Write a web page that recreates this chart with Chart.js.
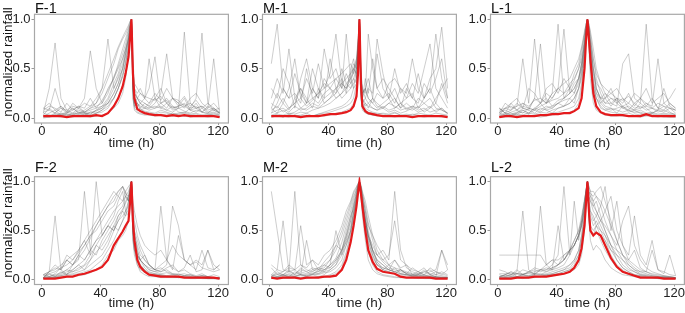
<!DOCTYPE html>
<html>
<head>
<meta charset="utf-8">
<script src="https://cdn.jsdelivr.net/npm/chart.js@4.4.1/dist/chart.umd.min.js"></script>
<style>
  body { margin: 0; background: #fff; }
  #fig { position: relative; width: 685px; height: 313px; overflow: hidden; font-family: "Liberation Sans", Arial, sans-serif; color: #111; }
  .panel { position: absolute; }
  .ptitle { position: absolute; font-size: 14.5px; line-height: 14px; }
  .ylab { position: absolute; font-size: 13.5px; white-space: nowrap; transform: translate(-50%, -50%) rotate(-90deg); }
</style>
</head>
<body>
<div id="fig"></div>
<script>
// sample times (h) shared by every curve
const HOURS = [1, 5, 9, 13, 17, 21, 25, 29, 33, 37,
               41, 45, 49, 52, 55, 57, 59, 60,
               61,
               62, 63, 65, 67, 70, 73,
               77, 81, 85, 89, 93, 97, 101, 105, 109, 113, 117, 121];
const X_TICKS = [0, 40, 80, 120];
const Y_TICKS = [0, 0.5, 1];
const PANEL_NAMES = ['F-1', 'M-1', 'L-1', 'F-2', 'M-2', 'L-2'];

// mean curves (red)
const RED_F1 = [.02,.02,.02,.02,.01,.02,.02,.02,.02,.03, .02,.05,.12,.2,.32,.45,.62,.8, 1, .45,.2,.09,.07,.05,.04, .03,.03,.02,.03,.02,.03,.02,.02,.02,.02,.02,.01];
const RED_M1 = [.02,.02,.02,.02,.02,.01,.02,.02,.02,.03, .04,.04,.05,.06,.08,.12,.22,.45, 1, .35,.12,.07,.05,.04,.03, .02,.02,.02,.02,.02,.01,.02,.02,.02,.02,.02,.01];
const RED_L1 = [.01,.02,.02,.01,.02,.02,.02,.03,.03,.04, .04,.05,.05,.07,.1,.2,.5,.78, 1, .8,.6,.25,.12,.06,.04, .03,.03,.03,.02,.02,.02,.04,.02,.02,.02,.02,.02];
const RED_F2 = [.01,.01,.01,.02,.03,.03,.05,.06,.08,.1, .13,.2,.35,.42,.49,.55,.6,.78, 1, .6,.4,.2,.13,.08,.05, .04,.03,.03,.03,.03,.02,.02,.02,.02,.02,.02,.01];
const RED_M2 = [.02,.01,.02,.02,.02,.01,.02,.02,.02,.03, .03,.04,.1,.2,.38,.55,.75,.88, 1, .88,.75,.5,.3,.18,.11, .08,.07,.06,.03,.02,.02,.02,.02,.02,.01,.01,.01];
const RED_L2 = [.01,.01,.01,.02,.02,.02,.03,.03,.03,.04, .05,.06,.08,.12,.2,.32,.55,.78, 1, .7,.5,.45,.48,.45,.35, .22,.13,.08,.06,.04,.02,.02,.02,.02,.01,.01,.01];

// individual events (grey)
const GRAY_F1 = [
  [.02,.03,.02,.05,.04,.03,.06,.05,.04,.08, .12,.2,.35,.45,.6,.7,.85,.92, 1, .3,.12,.08,.1,.06,.05, .04,.06,.05,.03,.04,.05,.03,.04,.02,.03,.04,.03],
  [.01,.02,.04,.03,.02,.05,.04,.03,.06,.05, .08,.15,.25,.35,.5,.62,.78,.9, 1, .45,.2,.12,.15,.1,.08, .1,.12,.08,.06,.1,.07,.05,.08,.06,.04,.05,.03],
  [.05,.03,.02,.04,.03,.02,.04,.06,.08,.1, .18,.28,.4,.55,.7,.8,.9,.95, 1, .35,.25,.2,.18,.15,.12, .2,.15,.18,.1,.12,.14,.08,.1,.12,.06,.08,.05],
  [0,.01,.02,.01,.02,.01,.03,.02,.01,.02, .03,.05,.1,.15,.25,.4,.65,.85, 1, .2,.08,.05,.04,.03,.03, .02,.03,.02,.02,.03,.02,.01,.02,.02,.01,.02,.01],
  [.1,.15,.08,.12,.06,.1,.05,.08,.12,.15, .25,.4,.55,.7,.8,.85,.92,.97, 1, .5,.3,.25,.3,.2,.15, .25,.18,.3,.2,.15,.22,.12,.18,.1,.15,.08,.1],
  [.05,.3,.76,.2,.08,.05,.1,.06,.04,.08, .1,.15,.25,.35,.5,.65,.8,.9, 1, .2,.12,.15,.08,.1,.15, .2,.1,.08,.12,.06,.05,.1,.12,.06,.05,.1,.05],
  [.03,.1,.05,.12,.06,.15,.1,.2,.68,.3, .15,.3,.4,.5,.6,.7,.8,.9, 1, .4,.25,.2,.15,.2,.6, .2,.3,.15,.1,.12,.2,.08,.15,.06,.1,.15,.08],
  [.08,.12,.1,.06,.15,.08,.12,.06,.1,.15, .3,.8,.3,.4,.5,.65,.8,.9, 1, .3,.2,.15,.1,.15,.12, .1,.15,.2,.12,.1,.87,.15,.1,.06,.12,.08,.05],
  [.02,.05,.08,.03,.05,.1,.06,.05,.02,.05, .08,.12,.2,.3,.42,.55,.72,.88, 1, .25,.15,.2,.25,.2,.3, .62,.15,.1,.2,.12,.15,.1,.2,.86,.15,.1,.05],
  [.1,.08,.3,.1,.05,.08,.12,.1,.2,.1, .12,.15,.2,.3,.42,.55,.7,.85, 1, .5,.3,.2,.15,.12,.1, .15,.25,.65,.2,.15,.1,.2,.25,.15,.1,.6,.05],
  [.01,.02,.03,.02,.04,.03,.05,.04,.06,.07, .1,.18,.3,.42,.55,.68,.82,.93, 1, .35,.15,.1,.08,.07,.06, .05,.08,.06,.04,.05,.06,.04,.05,.03,.04,.03,.02],
  [.03,.02,.05,.04,.06,.04,.08,.06,.1,.12, .15,.25,.42,.52,.65,.75,.88,.94, 1, .4,.22,.15,.12,.1,.1, .12,.1,.15,.08,.1,.12,.08,.06,.1,.05,.06,.04],
  [.02,.01,.03,.02,.01,.03,.02,.04,.03,.05, .06,.1,.2,.3,.45,.58,.75,.88, 1, .3,.1,.06,.05,.04,.04, .03,.04,.03,.05,.03,.02,.03,.02,.03,.02,.02,.01],
  [.06,.08,.05,.1,.08,.12,.1,.15,.12,.2, .3,.45,.6,.72,.82,.88,.94,.98, 1, .6,.35,.3,.25,.22,.2, .18,.22,.15,.2,.18,.12,.15,.1,.12,.08,.1,.06]
];
const GRAY_M1 = [
  [.02,.03,.01,.04,.02,.03,.05,.02,.04,.06, .08,.1,.12,.15,.2,.3,.5,.7, 1, .3,.15,.1,.08,.06,.05, .04,.03,.05,.03,.02,.04,.03,.02,.03,.02,.03,.02],
  [.05,.08,.1,.06,.12,.08,.1,.15,.12,.2, .25,.3,.35,.4,.45,.5,.6,.8, 1, .5,.3,.2,.15,.2,.12, .1,.15,.12,.08,.1,.12,.08,.1,.06,.08,.1,.05],
  [.01,.02,.02,.01,.03,.02,.01,.02,.03,.02, .03,.05,.06,.08,.1,.15,.25,.55, 1, .2,.08,.05,.04,.03,.02, .02,.02,.01,.02,.02,.01,.02,.01,.02,.02,.01,.01],
  [.1,.05,.15,.08,.2,.1,.15,.2,.25,.3, .35,.4,.45,.5,.55,.45,.6,.75, 1, .4,.25,.3,.2,.15,.1, .15,.2,.1,.15,.08,.12,.1,.15,.2,.1,.08,.05],
  [.55,.95,.3,.2,.45,.25,.15,.3,.2,.4, .3,.25,.5,.35,.4,.3,.35,.6, 1, .3,.2,.4,.25,.6,.3, .2,.35,.4,.3,.25,.6,.3,.2,.4,.5,.92,.3],
  [.3,.2,.5,.35,.1,.4,.6,.3,.2,.7, .4,.5,.3,.85,.4,.5,.45,.7, 1, .45,.3,.25,.85,.5,.3, .4,.3,.2,.1,.3,.2,.15,.35,.25,.4,.6,.2],
  [.2,.4,.25,.7,.2,.3,.15,.5,.3,.2, .6,.3,.4,.25,.5,.6,.4,.65, 1, .35,.2,.3,.4,.2,.65, .3,.2,.5,.25,.35,.2,.45,.2,.3,.15,.35,.15],
  [.1,.25,.15,.3,.6,.2,.4,.25,.55,.3, .45,.85,.35,.3,.45,.55,.5,.7, 1, .4,.25,.3,.2,.15,.25, .2,.25,.15,.3,.2,.35,.25,.5,.75,.3,.2,.1],
  [.15,.1,.2,.1,.15,.3,.2,.1,.3,.15, .2,.3,.2,.25,.3,.35,.4,.6, 1, .25,.15,.2,.3,.25,.8, .45,.2,.3,.15,.2,.25,.1,.2,.3,.85,.4,.2],
  [.05,.15,.3,.2,.25,.15,.5,.2,.15,.25, .3,.2,.25,.35,.3,.4,.35,.55, 1, .2,.1,.15,.1,.2,.15, .1,.15,.2,.1,.15,.1,.2,.15,.1,.2,.3,.4],
  [.02,.04,.03,.05,.04,.06,.05,.08,.1,.12, .15,.2,.25,.3,.35,.4,.5,.65, 1, .25,.12,.08,.06,.05,.04, .05,.04,.06,.03,.04,.03,.05,.04,.03,.05,.04,.03],
  [.01,.02,.01,.03,.02,.02,.03,.02,.04,.05, .06,.08,.1,.12,.15,.2,.35,.6, 1, .3,.1,.06,.04,.03,.03, .02,.03,.02,.02,.03,.02,.02,.03,.02,.02,.02,.01],
  [.08,.12,.06,.1,.15,.2,.12,.18,.25,.35, .3,.4,.3,.45,.35,.5,.55,.7, 1, .45,.2,.15,.12,.1,.08, .12,.08,.1,.15,.1,.08,.12,.06,.1,.15,.08,.05],
  [.03,.05,.08,.04,.06,.1,.08,.12,.1,.15, .2,.25,.35,.3,.4,.45,.55,.75, 1, .35,.2,.12,.15,.1,.08, .1,.06,.08,.05,.07,.1,.06,.08,.12,.06,.1,.04]
];
const GRAY_L1 = [
  [.02,.03,.02,.04,.03,.05,.04,.06,.05,.08, .1,.12,.15,.2,.3,.45,.7,.88, 1, .9,.7,.35,.2,.1,.08, .06,.05,.04,.05,.03,.04,.03,.04,.02,.03,.02,.02],
  [.05,.1,.08,.12,.15,.1,.2,.15,.25,.2, .3,.25,.35,.4,.5,.6,.8,.9, 1, .95,.85,.6,.4,.25,.15, .2,.15,.1,.12,.08,.1,.15,.1,.08,.06,.1,.05],
  [.01,.02,.01,.02,.02,.03,.02,.01,.02,.03, .04,.05,.06,.08,.15,.3,.6,.85, 1, .7,.4,.15,.08,.05,.03, .02,.02,.03,.02,.02,.01,.02,.02,.01,.02,.01,.01],
  [.1,.05,.15,.2,.1,.3,.25,.15,.3,.35, .25,.4,.3,.45,.55,.7,.85,.95, 1, .85,.75,.5,.35,.3,.2, .25,.3,.2,.15,.25,.2,.3,.15,.2,.25,.15,.1],
  [.03,.05,.04,.06,.08,.05,.1,.08,.12,.1, .15,.18,.2,.25,.35,.5,.75,.9, 1, .88,.65,.4,.25,.15,.1, .08,.1,.12,.08,.06,.08,.05,.06,.04,.05,.04,.03],
  [.05,.15,.1,.12,.6,.15,.8,.2,.15,.25, .95,.2,.25,.3,.4,.5,.7,.85, 1, .8,.55,.35,.25,.2,.15, .15,.2,.1,.08,.15,.1,.12,.2,.1,.08,.15,.1],
  [.1,.05,.08,.15,.1,.08,.2,.75,.15,.2, .3,.9,.25,.35,.4,.55,.75,.9, 1, .85,.7,.45,.3,.2,.25, .15,.12,.55,.65,.2,.15,.95,.2,.1,.15,.1,.08],
  [.03,.1,.15,.08,.12,.1,.08,.15,.2,.12, .18,.2,.3,.25,.4,.55,.75,.9, 1, .9,.75,.5,.3,.2,.2, .12,.2,.15,.25,.12,.2,.15,.12,.6,.15,.2,.3],
  [.06,.08,.05,.03,.08,.05,.1,.15,.08,.1, .15,.12,.2,.15,.3,.4,.6,.82, 1, .75,.5,.3,.2,.15,.2, .3,.15,.2,.1,.08,.15,.1,.05,.08,.3,.12,.08],
  [.1,.05,.03,.05,.1,.08,.05,.1,.08,.05, .1,.12,.15,.2,.3,.45,.68,.85, 1, .8,.55,.3,.2,.12,.08, .1,.05,.12,.06,.08,.05,.03,.05,.08,.12,.06,.03],
  [.02,.04,.03,.05,.06,.04,.08,.06,.1,.12, .15,.2,.25,.3,.4,.55,.78,.9, 1, .92,.78,.5,.3,.18,.12, .1,.08,.06,.08,.05,.06,.04,.05,.03,.04,.03,.02],
  [.05,.03,.06,.08,.05,.1,.08,.12,.15,.18, .2,.25,.3,.38,.5,.65,.85,.95, 1, .95,.88,.7,.5,.35,.25, .2,.18,.12,.15,.1,.12,.08,.1,.06,.08,.05,.04],
  [.01,.01,.02,.02,.03,.02,.03,.04,.03,.05, .06,.08,.1,.12,.2,.35,.65,.85, 1, .85,.55,.25,.12,.06,.04, .03,.03,.02,.02,.02,.02,.03,.02,.02,.01,.01,.01],
  [.08,.1,.12,.08,.15,.12,.18,.2,.15,.25, .3,.35,.4,.5,.6,.72,.88,.95, 1, .9,.8,.6,.45,.35,.3, .25,.2,.18,.22,.15,.2,.12,.1,.15,.12,.1,.08]
];
const GRAY_F2 = [
  [.01,.02,.03,.05,.08,.1,.15,.2,.3,.4, .5,.6,.7,.75,.8,.85,.9,.95, 1, .4,.25,.15,.1,.08,.05, .05,.04,.03,.03,.04,.02,.03,.02,.02,.01,.02,.01],
  [.02,.03,.02,.04,.05,.06,.08,.1,.15,.2, .25,.35,.5,.6,.65,.7,.75,.85, 1, .7,.5,.3,.2,.12,.08, .06,.05,.04,.05,.03,.04,.03,.02,.03,.02,.02,.02],
  [.01,.01,.02,.02,.03,.03,.04,.05,.07,.1, .15,.25,.3,.4,.45,.5,.6,.75, 1, .55,.3,.15,.08,.05,.03, .03,.02,.02,.02,.02,.02,.01,.01,.02,.01,.01,.01],
  [.05,.08,.1,.15,.2,.25,.3,.4,.5,.6, .7,.8,.9,.85,.95,.9,.8,.9, 1, .75,.6,.45,.35,.25,.15, .1,.12,.08,.06,.05,.04,.05,.03,.04,.03,.02,.02],
  [.02,.05,.04,.06,.1,.08,.12,.15,.25,.35, .45,.55,.65,.8,.9,.7,.65,.8, 1, .5,.35,.25,.2,.15,.1, .08,.06,.07,.05,.06,.04,.05,.03,.04,.03,.02,.02],
  [.02,.08,.65,.1,.05,.15,.2,.9,.3,.25, .4,.5,.6,.7,.75,.85,.8,.9, 1, .55,.45,.35,.25,.2,.15, .1,.75,.2,.12,.08,.1,.06,.04,.06,.03,.05,.03],
  [.05,.03,.06,.12,.25,.2,.3,.4,.25,1, .45,.55,.5,.65,.7,.8,.85,.95, 1, .4,.3,.25,.2,.15,.1, .08,.1,.15,.75,.55,.2,.15,.18,.12,.1,.08,.1],
  [.02,.08,.15,.1,.2,.15,.25,.35,.45,.55, .65,.75,.8,.9,.95,.85,.8,.9, 1, .8,.7,.55,.45,.35,.3, .25,.3,.2,.35,.25,.2,.15,.2,.15,.3,.15,.1],
  [.02,.06,.03,.08,.05,.1,.15,.1,.2,.35, .3,.4,.55,.5,.6,.7,.8,.9, 1, .6,.45,.3,.2,.25,.15, .1,.15,.2,.1,.45,.2,.15,.1,.3,.12,.1,.15],
  [.05,.08,.12,.1,.2,.15,.25,.2,.3,.4, .45,.55,.5,.6,.7,.65,.8,.88, 1, .5,.4,.25,.2,.15,.12, .1,.08,.12,.15,.08,.12,.25,.08,.1,.3,.1,.15],
  [.02,.03,.05,.07,.1,.15,.22,.3,.42,.55, .65,.75,.85,.9,.95,.88,.85,.92, 1, .5,.35,.2,.15,.1,.07, .06,.05,.04,.04,.03,.03,.02,.02,.02,.02,.01,.01],
  [.01,.02,.02,.03,.04,.05,.06,.08,.1,.15, .2,.3,.4,.5,.6,.65,.72,.85, 1, .6,.4,.25,.15,.1,.06, .05,.04,.03,.03,.02,.02,.02,.02,.01,.01,.01,.01],
  [.04,.06,.08,.12,.15,.2,.28,.35,.45,.5, .6,.7,.75,.85,.8,.9,.95,.97, 1, .65,.5,.4,.3,.2,.15, .1,.08,.1,.06,.05,.06,.04,.03,.04,.03,.02,.02],
  [.01,.02,.03,.04,.06,.08,.1,.14,.2,.28, .35,.45,.55,.65,.72,.78,.85,.9, 1, .45,.3,.2,.12,.08,.05, .04,.04,.03,.03,.02,.03,.02,.02,.02,.01,.01,.01]
];
const GRAY_M2 = [
  [.02,.02,.03,.02,.03,.04,.03,.05,.06,.08, .1,.15,.3,.45,.65,.78,.9,.95, 1, .95,.88,.7,.5,.3,.18, .1,.08,.06,.05,.04,.03,.03,.02,.02,.02,.02,.02],
  [.03,.05,.04,.06,.05,.08,.06,.1,.12,.15, .2,.3,.45,.6,.75,.85,.92,.97, 1, .92,.8,.6,.4,.25,.15, .12,.1,.08,.06,.05,.04,.05,.03,.04,.03,.02,.02],
  [.01,.02,.01,.02,.02,.01,.02,.02,.03,.02, .04,.06,.12,.25,.45,.6,.8,.9, 1, .85,.65,.4,.2,.1,.06, .04,.03,.02,.02,.02,.02,.01,.02,.01,.01,.01,.01],
  [.05,.1,.08,.12,.1,.15,.12,.2,.15,.25, .3,.4,.55,.7,.8,.9,.95,.98, 1, .97,.9,.8,.65,.45,.3, .2,.15,.12,.1,.08,.06,.05,.08,.06,.05,.04,.03],
  [.02,.03,.05,.03,.04,.05,.04,.06,.05,.07, .08,.12,.2,.35,.5,.7,.85,.93, 1, .9,.78,.55,.35,.22,.15, .1,.08,.12,.06,.05,.04,.03,.04,.03,.02,.02,.02],
  [.9,.5,.1,.08,.9,.15,.1,.08,.12,.1, .15,.2,.3,.45,.6,.75,.88,.95, 1, .9,.8,.6,.45,.3,.25, .3,.2,.9,.3,.12,.08,.06,.08,.1,.05,.08,.05],
  [.15,.1,.6,.08,.1,.55,.15,.2,.1,.12, .2,.35,.3,.5,.65,.72,.85,.95, 1, .85,.75,.6,.45,.35,.25, .2,.25,.6,.2,.15,.1,.08,.05,.08,.1,.3,.15],
  [.03,.08,.05,.1,.05,.12,.08,.05,.1,.08, .15,.5,.25,.4,.55,.68,.8,.9, 1, .95,.85,.7,.55,.45,.35, .25,.15,.2,.1,.06,.12,.08,.05,.12,.08,.05,.1],
  [.12,.05,.08,.15,.1,.05,.4,.1,.08,.15, .12,.2,.3,.38,.5,.62,.8,.9, 1, .9,.8,.6,.45,.3,.2, .15,.1,.2,.12,.15,.05,.08,.12,.05,.08,.06,.04],
  [.05,.03,.05,.03,.08,.05,.03,.05,.03,.05, .1,.15,.25,.35,.5,.68,.85,.92, 1, .9,.8,.58,.38,.25,.15, .1,.15,.06,.1,.06,.03,.05,.1,.05,.03,.3,.1],
  [.02,.03,.02,.04,.03,.05,.04,.06,.08,.1, .15,.22,.38,.55,.7,.82,.92,.96, 1, .93,.85,.65,.45,.28,.18, .12,.1,.08,.06,.05,.04,.04,.03,.03,.02,.02,.02],
  [.04,.06,.05,.08,.06,.1,.08,.12,.1,.18, .25,.35,.5,.65,.78,.88,.94,.98, 1, .95,.88,.75,.58,.4,.25, .18,.12,.1,.08,.07,.05,.06,.04,.05,.03,.03,.02],
  [.01,.01,.02,.01,.02,.02,.01,.02,.02,.03, .05,.08,.15,.28,.48,.65,.82,.92, 1, .88,.72,.48,.28,.15,.08, .05,.04,.03,.02,.02,.02,.02,.01,.01,.01,.01,.01],
  [.03,.02,.04,.05,.03,.06,.05,.08,.06,.1, .12,.18,.28,.42,.6,.75,.88,.95, 1, .92,.82,.62,.42,.3,.2, .15,.1,.08,.1,.06,.05,.04,.05,.03,.03,.02,.02]
];
const GRAY_L2 = [
  [.25,.25,.25,.25,.25,.25,.25,.25,.15,.2, .15,.25,.3,.4,.5,.6,.8,.9, 1, .9,.85,.75,.7,.6,.5, .35,.25,.15,.1,.08,.05,.04,.03,.03,.02,.02,.02],
  [.06,.06,.06,.06,.06,.06,.06,.06,.04,.05, .06,.08,.1,.15,.25,.4,.6,.85, 1, .7,.55,.5,.55,.5,.4, .25,.15,.1,.06,.04,.03,.02,.02,.02,.02,.01,.01],
  [.01,.02,.01,.02,.03,.02,.03,.04,.05,.06, .08,.1,.15,.2,.3,.45,.7,.85, 1, .85,.8,.75,.8,.65,.5, .35,.2,.12,.08,.05,.04,.03,.02,.02,.02,.01,.01],
  [.02,.03,.04,.03,.05,.04,.06,.05,.08,.1, .12,.15,.25,.35,.45,.6,.8,.9, 1, .9,.88,.85,.9,.95,.8, .6,.4,.25,.15,.1,.06,.05,.04,.03,.03,.02,.02],
  [.01,.01,.02,.02,.01,.02,.02,.03,.03,.04, .05,.06,.08,.1,.15,.25,.5,.75, 1, .6,.4,.3,.35,.3,.2, .12,.08,.05,.04,.03,.02,.02,.02,.01,.01,.01,.01],
  [.05,.03,.05,.08,.7,.1,.05,.75,.15,.1, .55,.2,.3,.4,.5,.65,.82,.9, 1, .85,.8,.7,.65,.75,.95, .5,.8,.35,.25,.65,.25,.15,.4,.1,.08,.05,.04],
  [.03,.05,.08,.03,.05,.08,.1,.08,.1,.15, .25,.95,.25,.8,.4,.55,.72,.88, 1, .95,.9,.8,.7,.6,.55, .45,.35,.6,.75,.35,.2,.12,.08,.06,.04,.03,.02],
  [.1,.08,.05,.1,.05,.03,.05,.1,.08,.12, .15,.2,.3,.35,.45,.55,.75,.9, 1, .75,.65,.55,.6,.5,.45, .35,.3,.25,.2,.3,.12,.08,.3,.1,.06,.25,.04],
  [.03,.05,.03,.06,.05,.08,.06,.1,.12,.1, .15,.2,.3,.35,.45,.6,.8,.92, 1, .8,.7,.65,.55,.45,.4, .3,.25,.2,.15,.1,.08,.08,.05,.04,.03,.03,.02],
  [.02,.05,.08,.06,.1,.08,.12,.1,.15,.2, .2,.25,.3,.35,.45,.55,.7,.85, 1, .6,.5,.45,.55,.6,.7, .85,.5,.35,.2,.15,.1,.08,.06,.05,.04,.03,.02],
  [.02,.02,.03,.03,.04,.04,.05,.05,.06,.08, .1,.12,.15,.2,.3,.45,.65,.85, 1, .9,.85,.8,.85,.75,.6, .45,.3,.2,.12,.08,.05,.04,.03,.02,.02,.02,.01],
  [.01,.02,.02,.03,.02,.03,.04,.03,.05,.06, .08,.1,.12,.18,.25,.4,.6,.8, 1, .8,.7,.6,.65,.55,.45, .3,.2,.12,.08,.05,.04,.03,.02,.02,.01,.01,.01],
  [.03,.04,.05,.06,.05,.07,.08,.1,.1,.12, .15,.2,.28,.35,.45,.55,.75,.9, 1, .95,.9,.9,.85,.8,.7, .55,.4,.25,.18,.12,.08,.06,.04,.03,.03,.02,.02],
  [.01,.01,.01,.02,.02,.02,.03,.03,.04,.05, .06,.08,.1,.12,.18,.3,.55,.8, 1, .65,.5,.45,.5,.4,.3, .2,.12,.08,.05,.04,.03,.02,.02,.01,.01,.01,.01]
];

const RED = [RED_F1, RED_M1, RED_L1, RED_F2, RED_M2, RED_L2];
const GRAY = [GRAY_F1, GRAY_M1, GRAY_L1, GRAY_F2, GRAY_M2, GRAY_L2];

const TICK_FONT = { family: '"Liberation Sans", Arial, sans-serif', size: 13, lineHeight: 1 };
const fig = document.getElementById('fig');

// draws the full grey frame around the plot area
const framePlugin = {
  id: 'frame',
  afterDraw(chart) {
    const a = chart.chartArea;
    const ctx = chart.ctx;
    ctx.save();
    ctx.strokeStyle = '#a8a8a8';
    ctx.lineWidth = 1.2;
    ctx.strokeRect(a.left, a.top, a.right - a.left, a.bottom - a.top);
    ctx.restore();
  }
};

function toPoints(ys) {
  return HOURS.map((h, k) => ({ x: h, y: ys[k] }));
}

function makePanel(i) {
  const col = i % 3, row = Math.floor(i / 3);
  const left = col * 228, top = row === 0 ? 0 : 156;
  const padTop = row === 0 ? 14.3 : 20.7;
  const axisH = row === 0 ? 28.6 : 26.6;
  const canvasH = 160;
  const boxBottom = row === 0 ? 123 : 128.5;

  const wrap = document.createElement('div');
  wrap.className = 'panel';
  wrap.style.left = left + 'px';
  wrap.style.top = top + 'px';
  const canvas = document.createElement('canvas');
  canvas.width = 229;
  canvas.height = canvasH;
  wrap.appendChild(canvas);
  fig.appendChild(wrap);

  const title = document.createElement('div');
  title.className = 'ptitle';
  title.textContent = PANEL_NAMES[i];
  title.style.left = (left + 35) + 'px';
  title.style.top = (row === 0 ? 0.5 : 159.5) + 'px';
  fig.appendChild(title);

  if (col === 0) {
    const yl = document.createElement('div');
    yl.className = 'ylab';
    yl.textContent = 'normalized rainfall';
    yl.style.left = '7px';
    yl.style.top = (row === 0 ? 62 : 223) + 'px';
    fig.appendChild(yl);
  }

  const datasets = [{
    data: toPoints(RED[i]),
    borderColor: '#e41a1c',
    borderWidth: 2.2,
    pointRadius: 0,
    tension: 0
  }];
  GRAY[i].forEach(ys => {
    datasets.push({
      data: toPoints(ys),
      borderColor: 'rgba(100,100,100,0.32)',
      borderWidth: 1,
      pointRadius: 0,
      tension: 0
    });
  });

  new Chart(canvas, {
    type: 'line',
    data: { datasets: datasets },
    options: {
      responsive: false,
      animation: false,
      events: [],
      layout: { padding: { top: padTop, left: 0, right: 0.5, bottom: canvasH - boxBottom - axisH } },
      plugins: { legend: { display: false }, tooltip: { enabled: false } },
      scales: {
        x: {
          type: 'linear',
          min: -5,
          max: 127,
          afterBuildTicks: s => { s.ticks = X_TICKS.map(v => ({ value: v })); },
          afterFit: s => { s.height = axisH; },
          grid: { drawOnChartArea: false, drawTicks: true, tickLength: 2, color: '#999' },
          border: { display: false },
          ticks: { font: TICK_FONT, color: '#222', padding: 0, maxRotation: 0 },
          title: { display: true, text: 'time (h)', color: '#222', padding: 0,
                   font: { family: '"Liberation Sans", Arial, sans-serif', size: 13.5 } }
        },
        y: {
          min: -0.05,
          max: 1.05,
          afterBuildTicks: s => { s.ticks = Y_TICKS.map(v => ({ value: v })); },
          afterFit: s => { s.width = 34.5; },
          grid: { drawOnChartArea: false, drawTicks: true, tickLength: 3, color: '#999' },
          border: { display: false },
          ticks: { font: TICK_FONT, color: '#222', padding: 1, callback: v => v.toFixed(1) }
        }
      }
    },
    plugins: [framePlugin]
  });
}

for (let i = 0; i < 6; i++) makePanel(i);
</script>
</body>
</html>
